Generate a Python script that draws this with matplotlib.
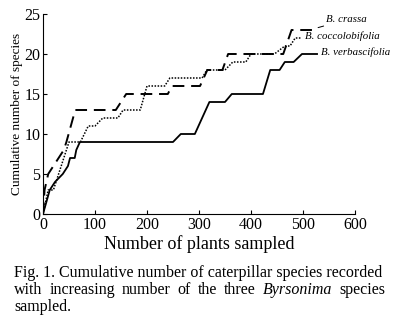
import matplotlib
matplotlib.use("Agg")
import matplotlib.pyplot as plt

plt.rcParams['font.family'] = ['Liberation Serif', 'DejaVu Serif']

# Data
crassa_x = [0, 3, 10, 20, 30, 40, 45, 62, 140, 160, 240, 248, 302, 316, 345, 356, 462, 478, 527]
crassa_y = [0, 3, 5, 6, 7, 8, 9, 13, 13, 15, 15, 16, 16, 18, 18, 20, 20, 23, 23]

cocco_x = [0, 10, 20, 30, 40, 50, 72, 87, 100, 115, 144, 154, 187, 200, 234, 244, 306, 315, 350, 365, 390, 400, 445, 465, 475, 485, 497]
cocco_y = [0, 3, 3, 5, 7, 9, 9, 11, 11, 12, 12, 13, 13, 16, 16, 17, 17, 18, 18, 19, 19, 20, 20, 21, 21, 22, 22]

verba_x = [0, 13, 23, 38, 48, 52, 61, 64, 71, 250, 265, 292, 320, 350, 363, 423, 437, 455, 465, 482, 498, 527]
verba_y = [0, 3, 4, 5, 6, 7, 7, 8, 9, 9, 10, 10, 14, 14, 15, 15, 18, 18, 19, 19, 20, 20]

labels = ['B. crassa', 'B. coccolobifolia', 'B. verbascifolia']

fig = plt.figure(figsize=(3.98, 3.22), dpi=100)
ax = fig.add_axes([43/398, 108/322, 312/398, 200/322])

ax.plot(crassa_x, crassa_y, color='black', lw=1.4, dashes=(6, 3.5))
ax.plot(cocco_x, cocco_y, color='black', lw=1.1, linestyle=(0, (1, 1)))
ax.plot(verba_x, verba_y, color='black', lw=1.3)

# curve labels
ax.annotate(labels[0], xy=(529, 23.3), xytext=(545, 24.3), fontsize=7.8, style='italic',
            va='center', ha='left',
            arrowprops=dict(arrowstyle='-', lw=0.7, color='black', shrinkA=0, shrinkB=0))
ax.text(503, 22.2, labels[1], fontsize=7.8, style='italic', va='center', ha='left')
ax.text(535, 20.2, labels[2], fontsize=7.8, style='italic', va='center', ha='left')

ax.set_xlim(0, 600)
ax.set_ylim(0, 25)
ax.set_xticks(range(0, 601, 100))
ax.set_yticks(range(0, 26, 5))
ax.spines['top'].set_visible(False)
ax.spines['right'].set_visible(False)
ax.tick_params(direction='in', labelsize=11.5, length=3, pad=2)
ax.set_xlabel('Number of plants sampled', fontsize=13, labelpad=2)
ax.set_ylabel('Cumulative number of species', fontsize=9.5, labelpad=1)

# caption, justified
renderer = fig.canvas.get_renderer()
x0, x1 = 14 / 398, 385 / 398
fig.text(x0, 1 - 273/322, 'Fig. 1. Cumulative number of caterpillar species recorded',
         fontsize=11.5, va='center', ha='left')

words = [('with', 'normal'), ('increasing', 'normal'), ('number', 'normal'), ('of', 'normal'),
         ('the', 'normal'), ('three', 'normal'), ('Byrsonima', 'italic'), ('species', 'normal')]
texts = [fig.text(0, 1 - 290/322, w, fontsize=11.5, style=s, va='center', ha='left') for w, s in words]
widths = [t.get_window_extent(renderer).width / 398 for t in texts]
gap = (x1 - x0 - sum(widths)) / (len(words) - 1)
pos = x0
for t, w in zip(texts, widths):
    t.set_x(pos)
    pos += w + gap

fig.text(x0, 1 - 307/322, 'sampled.', fontsize=11.5, va='center', ha='left')

fig.savefig('out.png', dpi=100)
